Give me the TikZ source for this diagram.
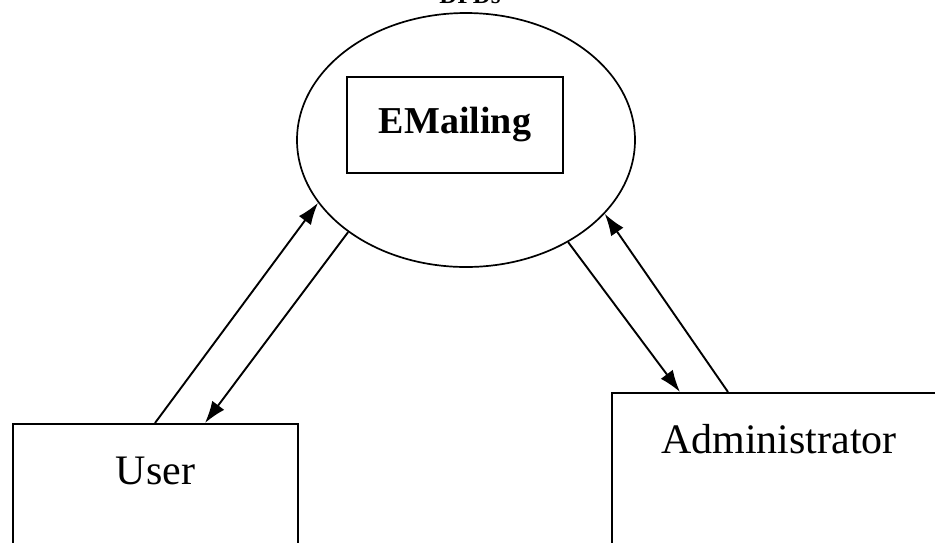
\documentclass[tikz,border=0pt]{standalone}
\usepackage{fontspec}
\setmainfont{Liberation Serif}
\usetikzlibrary{shapes.geometric,arrows.meta,positioning}

\begin{document}
\begin{tikzpicture}[x=1pt,y=-1pt,
  process/.style={draw,ellipse,line width=1.7pt,inner sep=0pt,minimum width=338pt,minimum height=254pt},
  label box/.style={draw,rectangle,line width=2pt,inner sep=0pt,anchor=north},
  terminal/.style={draw,rectangle,line width=2pt,inner sep=0pt,anchor=north west,text depth=110pt,text height=60pt},
  flow/.style={line width=1.9pt,-{Latex[length=22pt,width=15pt]}}]
  \useasboundingbox (0,0) rectangle (935,542);

  \node[font=\bfseries\fontsize{25}{30}\selectfont,anchor=base] (title) at (470,3) {DFDs};

  \node[process] (proc) at (466,140) {};
  \node[label box,minimum width=216pt,text height=56pt,text depth=40pt,
        font=\bfseries\fontsize{38}{44}\selectfont] (mail) at (455,76) {EMailing};

  \node[terminal,minimum width=285pt,font=\fontsize{42}{48}\selectfont] (user) at (12,423) {User};
  \node[terminal,minimum width=334pt,font=\fontsize{42}{48}\selectfont] (admin) at (611,392) {Administrator};

  \draw[flow] ([xshift=143pt]user.north west) -- (proc.203.6);
  \draw[flow] (proc.218) -- ([xshift=193pt]user.north west);
  \draw[flow] (proc.315.6) -- ([xshift=69pt]admin.north west);
  \draw[flow] ([xshift=117pt]admin.north west) -- (proc.332.3);
\end{tikzpicture}
\end{document}
